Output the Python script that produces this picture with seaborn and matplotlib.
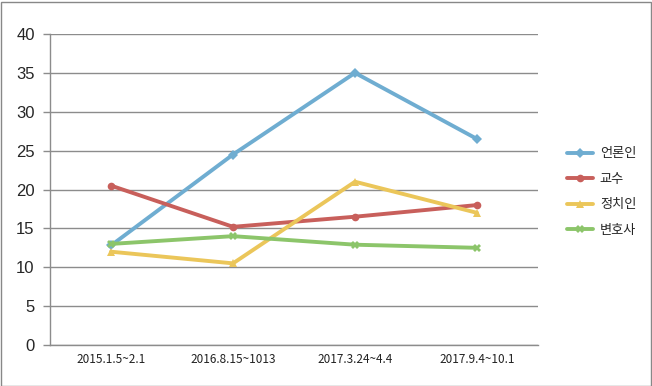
import matplotlib
matplotlib.use("Agg")
import matplotlib.pyplot as plt
import seaborn as sns
import pandas as pd
import numpy as np
from matplotlib.patches import Rectangle

periods = ["2015.1.5~2.1", "2016.8.15~1013", "2017.3.24~4.4", "2017.9.4~10.1"]
series_names = ["언론인", "교수", "정치인", "변호사"]
v_press = [12.8, 24.5, 35.0, 26.5]
v_prof = [20.5, 15.2, 16.5, 18.0]
v_pol = [12.0, 10.5, 21.0, 17.0]
v_law = [13.0, 14.0, 12.9, 12.5]
y_ticks = [0, 5, 10, 15, 20, 25, 30, 35, 40]

colors = ["#6fadd1", "#c85f5b", "#ebc65a", "#8cc56a"]
markers = ["D", "o", "^", "X"]

df = pd.DataFrame({
    "period": periods * 4,
    "series": sum([[s] * 4 for s in series_names], []),
    "value": v_press + v_prof + v_pol + v_law,
})

sns.set_theme(style="white")
plt.rcParams["font.family"] = ["Noto Sans CJK KR", "DejaVu Sans"]

fig = plt.figure(figsize=(6.52, 3.86), dpi=100)
ax = fig.add_axes([50 / 652, 1 - 345 / 386, (538 - 50) / 652, (345 - 34) / 386])

sns.lineplot(data=df, x="period", y="value", hue="series", style="series",
             hue_order=series_names, style_order=series_names,
             palette=colors, markers=markers, dashes=False, sort=False,
             linewidth=2.8, markersize=5.5, markeredgewidth=0, ax=ax, legend=True)

ax.set_xlim(-0.5, 3.5)
ax.set_ylim(0, 40)
ax.set_yticks(y_ticks)
ax.set_yticklabels([str(t) for t in y_ticks], fontsize=12, family="Liberation Sans")
ax.yaxis.grid(True, color="#8c8c8c", linewidth=1)
ax.set_axisbelow(True)
ax.set_xlabel("")
ax.set_ylabel("")
ax.set_xticks(range(4))
ax.set_xticklabels(periods, fontsize=8.5, color="#222222")
ax.set_xticks([-0.5, 0.5, 1.5, 2.5, 3.5], minor=True)
ax.tick_params(axis="x", which="major", length=0, pad=6)
ax.tick_params(axis="x", which="minor", length=5, width=1, color="#8c8c8c", direction="out")
ax.tick_params(axis="y", length=5, width=1, color="#8c8c8c", direction="out", pad=6, left=True)
for s in ["top", "right"]:
    ax.spines[s].set_visible(False)
for s in ["left", "bottom"]:
    ax.spines[s].set_color("#8c8c8c")
    ax.spines[s].set_linewidth(1)

handles, labels = ax.get_legend_handles_labels()
leg = ax.legend(handles, labels, loc="center left", bbox_to_anchor=(555 / 652, 1 - 192 / 386),
                bbox_transform=fig.transFigure, frameon=False, fontsize=9.5,
                handlelength=2.0, labelspacing=0.95, handletextpad=0.5)

fig.patches.append(Rectangle((0.5 / 652, 0.5 / 386), 650 / 652, 384 / 386, transform=fig.transFigure,
                             fill=False, edgecolor="#888888", linewidth=1))
fig.savefig("out.png", dpi=100)
